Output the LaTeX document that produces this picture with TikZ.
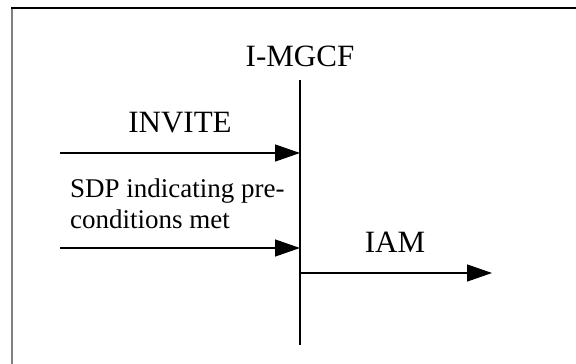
\documentclass[tikz,border=0pt]{standalone}
\usepackage{fontspec}
\setmainfont{Liberation Serif}
\usetikzlibrary{arrows.meta,positioning}

\begin{document}
\begin{tikzpicture}[
      x=1pt, y=-1pt,
      every node/.style={inner sep=0pt},
      lbl/.style={font=\fontsize{31}{36}\selectfont, anchor=base},
      note/.style={font=\fontsize{27}{31}\selectfont, align=left, anchor=base west},
      life/.style={line width=1.3pt},
      msg/.style={-{Triangle[length=25pt, width=17pt]}, line width=1.3pt}
  ]
    \useasboundingbox (0,0) rectangle (576,364);
    % frame
    \draw[gray, line width=2pt] (12,364) -- (12,8);
    \draw[line width=2pt] (11,8) -- (576,8);

    % lifeline
    \node[lbl] (mgcf) at (300,66) {I-MGCF};
    \coordinate (top) at (300,80);
    \coordinate (bot) at (300,345);
    \draw[life] (top) -- (bot);

    % messages
    \coordinate (inv) at (60,153);
    \coordinate (inv end) at (300,153);
    \coordinate (sdp) at (60,248);
    \coordinate (sdp end) at (300,248);
    \coordinate (iam) at (300,273);
    \coordinate (iam end) at (492,273);
    \draw[msg] (inv) -- (inv end);
    \draw[msg] (sdp) -- (sdp end);
    \draw[msg] (iam) -- (iam end);

    \node[lbl] (invite) at (180,132) {INVITE};
    \node[note] (precond) at (70,228) {SDP indicating pre-\\conditions met};
    \node[lbl] (iamlbl) at (395,252) {IAM};
  \end{tikzpicture}
\end{document}
